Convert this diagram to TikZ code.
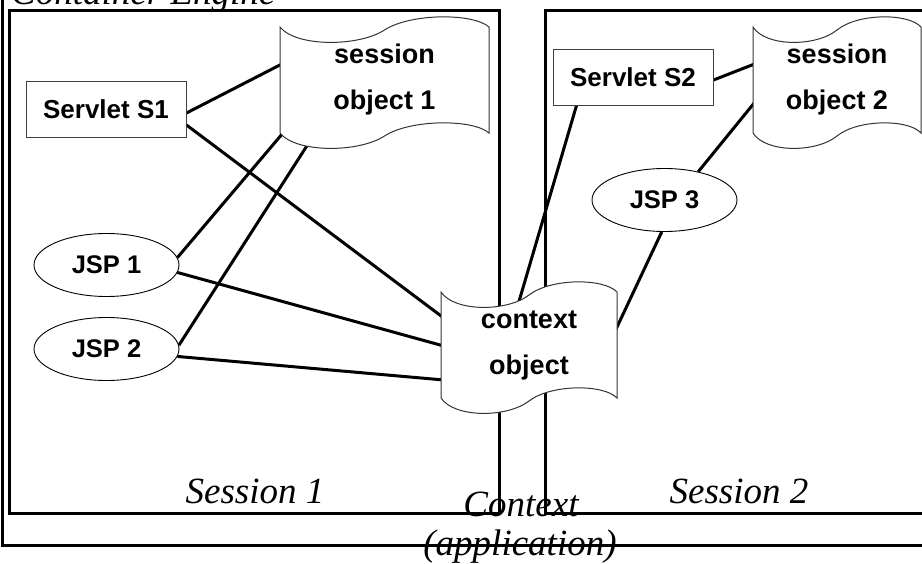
\documentclass[tikz,border=0pt]{standalone}
\usepackage{fontspec}
\setmainfont{Liberation Serif}
\newfontfamily\arialfont{Liberation Sans}
\usetikzlibrary{shapes.geometric,calc}
\pgfdeclarelayer{frames}
\pgfdeclarelayer{links}
\pgfdeclarelayer{tapes}
\pgfsetlayers{frames,links,tapes,main}
\tikzset{
  frameline/.style={line width=3pt, draw=black},
  link/.style={line width=3pt, draw=black},
  boxnode/.style={draw=black!75, line width=1pt, fill=white, minimum width=160pt, minimum height=56pt, inner sep=0pt,
    font=\arialfont\bfseries\fontsize{26}{30}\selectfont},
  jspnode/.style={ellipse, draw=black, line width=0.9pt, fill=white, minimum width=145pt, minimum height=63pt, inner sep=0pt,
    font=\arialfont\bfseries\fontsize{25.5}{30}\selectfont},
  tapenode/.style={inner sep=0pt, align=center, font=\arialfont\bfseries\fontsize{27}{46}\selectfont},
  tapeline/.style={draw=black!80, line width=1pt, fill=white},
  biglabel/.style={inner sep=0pt, font=\itshape\fontsize{37}{40}\selectfont},
}
\newcommand\tapeframe[3]{%
  \begin{pgfonlayer}{tapes}
  \draw[tapeline, shift={(#1.center)}] (-#2,-#3)
    .. controls (-0.85*#2,-#3+20) and (-0.25*#2,-#3+20) .. (0,-#3+3)
    .. controls (0.25*#2,-#3-14) and (0.85*#2,-#3-14) .. (#2,-#3)
    -- (#2,#3)
    .. controls (0.85*#2,#3-14) and (0.25*#2,#3-14) .. (0,#3+3)
    .. controls (-0.25*#2,#3+20) and (-0.85*#2,#3+20) .. (-#2,#3)
    -- cycle;
  \end{pgfonlayer}}
\begin{document}
\begin{tikzpicture}[x=1pt, y=-1pt]
\useasboundingbox (0,0) rectangle (922,563);

% containers
\begin{pgfonlayer}{frames}
  \draw[frameline] (2,-20) rectangle (940,545);
  \draw[frameline] (9,10) rectangle (499,513);
  \draw[frameline] (545,10) rectangle (940,513);
\end{pgfonlayer}

% labels
\node[biglabel, anchor=base west] (engine) at (11,4) {Container Engine};
\node[biglabel, anchor=base] (sess1) at (255,503) {Session 1};
\node[biglabel, anchor=base] (sess2) at (739,503) {Session 2};
\node[biglabel, anchor=base] (ctxlab) at (521,516) {Context};
\node[biglabel, anchor=base] (applab) at (520,555) {(application)};

% nodes
\node[boxnode] (s1) at (106,109) {Servlet S1};
\node[boxnode] (s2) at (633,77) {Servlet S2};
\node[jspnode] (jsp1) at (106.5,265) {JSP 1};
\node[jspnode] (jsp2) at (106.5,349) {JSP 2};
\node[jspnode] (jsp3) at (664.5,200) {JSP 3};
\node[tapenode, minimum width=209pt, minimum height=106pt] (so1) at (384.5,80) {session\\object 1};
\node[tapenode, minimum width=168pt, minimum height=106pt] (so2) at (837,80) {session\\object 2};
\node[tapenode, minimum width=176pt, minimum height=106pt] (ctx) at (529,345) {context\\object};

\tapeframe{so1}{104.5}{53}
\tapeframe{so2}{84}{53}
\tapeframe{ctx}{88}{53}

% connectors
\begin{pgfonlayer}{links}
  \draw[link] ([yshift=-4pt]s1.east) -- ([xshift=3pt,yshift=16.5pt]so1.west);
  \draw[link] ([yshift=-16pt]s1.east) -- ([xshift=3pt,yshift=27pt]ctx.west);
  \draw[link] (jsp1.6) -- ([xshift=3pt]so1.south west);
  \draw[link] (jsp2.3) -- ([xshift=32pt,yshift=-5pt]so1.south west);
  \draw[link] (jsp1.-6) -- ([xshift=3pt,yshift=-1pt]ctx.west);
  \draw[link] (jsp2.-6) -- ([xshift=3pt,yshift=-35pt]ctx.west);
  \draw[link] ([yshift=-3pt]s2.east) -- ([xshift=3pt,yshift=16.5pt]so2.west);
  \draw[link] (jsp3.40) -- ([xshift=3pt,yshift=-21pt]so2.west);
  \draw[link] ([xshift=24pt]s2.south west) -- ([xshift=-11pt,yshift=-13pt]ctx.north);
  \draw[link] (jsp3.-95) -- ([xshift=-3pt,yshift=12pt]ctx.east);
\end{pgfonlayer}
\end{tikzpicture}
\end{document}
